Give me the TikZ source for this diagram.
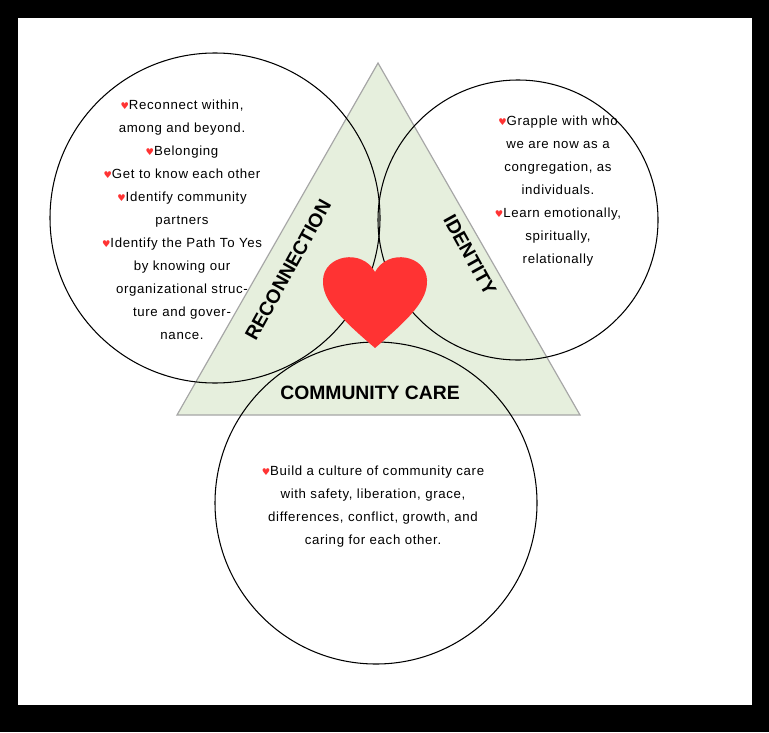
\documentclass[tikz,border=0pt]{standalone}
\usepackage{fontspec}
\setmainfont{Liberation Sans}
\newfontfamily\spacedfont[LetterSpace=5]{Liberation Sans}
\newfontfamily\symfont{DejaVu Sans}
\definecolor{triFill}{HTML}{E6EFDD}
\definecolor{heartRed}{HTML}{FF3333}
\newcommand{\hb}{{\symfont\color{heartRed}\footnotesize ♥}}
\begin{document}
\begin{tikzpicture}[x=0.03cm,y=-0.03cm,
    ring/.style={draw=black, line width=0.9pt},
    bodytext/.style={align=center, font=\spacedfont\fontsize{11.3}{19.6}\selectfont, text width=5.6cm},
    heading/.style={font=\bfseries\fontsize{16.5}{18}\selectfont}]
    % Frame
    \fill[black] (0,0) rectangle (769,732);
    \fill[white] (18,18) rectangle (752,705);
    \useasboundingbox (0,0) rectangle (769,732);

    % Triangle
    \coordinate (apex) at (378,63);
    \coordinate (bl) at (177,415);
    \coordinate (br) at (580,415);
    \draw[fill=triFill, draw=gray!70, line width=1pt] (apex) -- (bl) -- (br) -- cycle;

    % Circles
    \node[ring, circle, minimum size=330*0.03cm] (recon) at (215,218) {};
    \node[ring, circle, minimum size=280*0.03cm] (ident) at (518,220) {};
    \node[ring, circle, minimum size=322*0.03cm] (care) at (376,503) {};

    % Heart
    \fill[heartRed] (375,348) .. controls (340,318) and (322,300) .. (323,280)
        .. controls (324,255) and (362,248) .. (375,272)
        .. controls (388,248) and (426,255) .. (427,280)
        .. controls (428,300) and (410,318) .. (375,348) -- cycle;

    % Headings
    \node[heading, rotate=61] (reconLbl) at (288,270) {RECONNECTION};
    \node[heading, rotate=-61] (identLbl) at (470,255) {IDENTITY};
    \node[heading] (careLbl) at (370,393) {COMMUNITY CARE};

    % Texts
    \node[bodytext, anchor=north] (reconTxt) at (182,96) {%
        \hb Reconnect within,\\ among and beyond.\\
        \hb Belonging\\
        \hb Get to know each other\\
        \hb Identify community\\ partners\\
        \hb Identify the Path To Yes\\ by knowing our\\ organizational struc-\\ ture and gover-\\ nance.};
    \node[bodytext, anchor=north] (identTxt) at (558,112) {%
        \hb Grapple with who\\ we are now as a\\ congregation, as\\ individuals.\\
        \hb Learn emotionally,\\ spiritually,\\ relationally};
    \node[bodytext, anchor=north, text width=7.5cm] (careTxt) at (373,462) {%
        \hb Build a culture of community care\\ with safety, liberation, grace,\\ differences, conflict, growth, and\\ caring for each other.};
\end{tikzpicture}
\end{document}
